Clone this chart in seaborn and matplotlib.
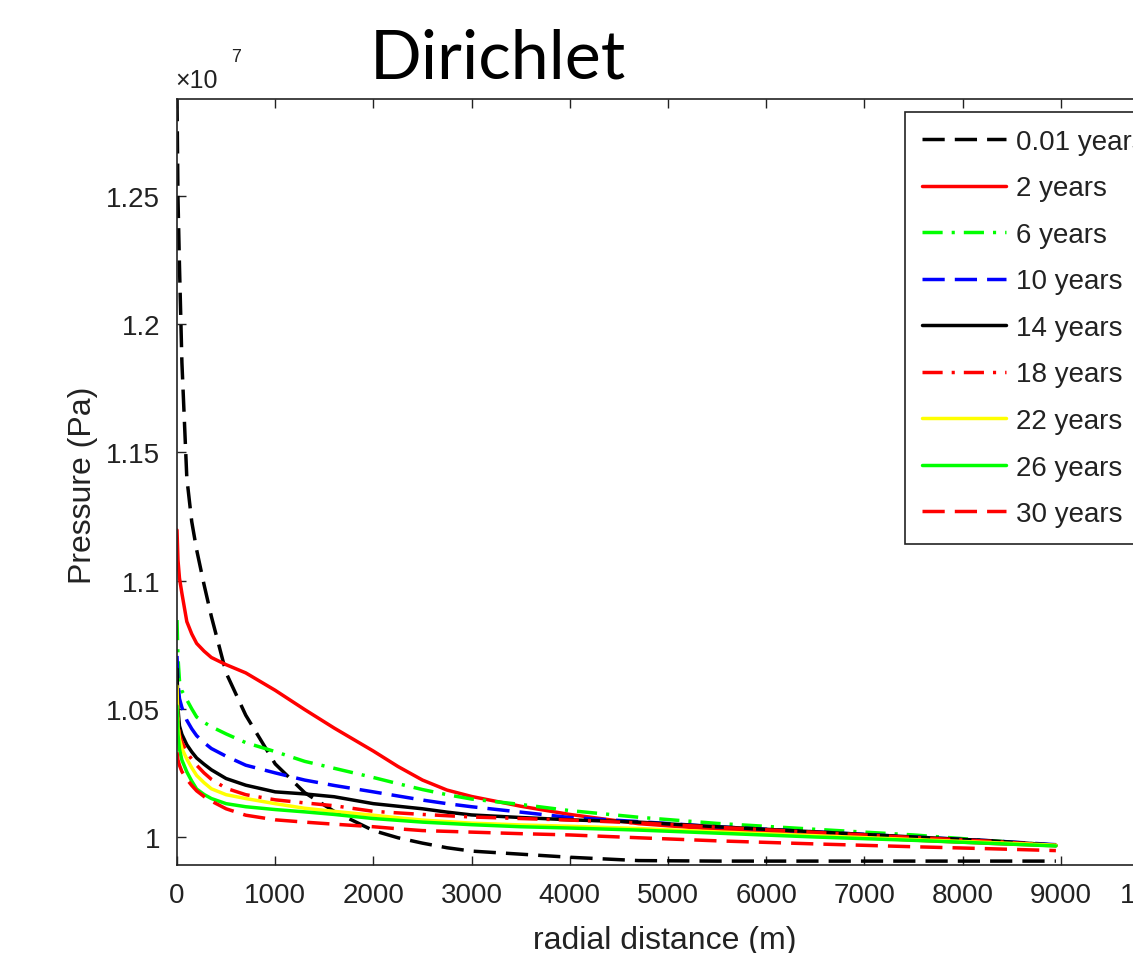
import numpy as np
import pandas as pd
import matplotlib
matplotlib.use("Agg")
import matplotlib.pyplot as plt
import seaborn as sns
from matplotlib.ticker import FixedLocator, FuncFormatter

# ---------------- data (pressure in units of 1e7 Pa) ----------------
radial_distance = [0, 10, 25, 50, 100, 150, 200, 275, 350, 500, 700, 1000, 1300, 1600,
                   2000, 2250, 2500, 2750, 3000, 3500, 4000, 4700, 5500, 6500, 7500, 8300, 8950]

p_001y = [1.2878, 1.2490, 1.2230, 1.1850, 1.1400, 1.1230, 1.1120, 1.0985, 1.0860, 1.0640,
          1.0475, 1.0285, 1.0173, 1.0100, 1.0025, 0.9997, 0.9976, 0.9958, 0.9945, 0.9933,
          0.9921, 0.9908, 0.9906, 0.9906, 0.9906, 0.9906, 0.9906]
p_2y = [1.1197, 1.1080, 1.1010, 1.0950, 1.0840, 1.0792, 1.0755, 1.0725, 1.0700, 1.0672,
        1.0640, 1.0572, 1.0497, 1.0425, 1.0335, 1.0275, 1.0222, 1.0183, 1.0158, 1.0120,
        1.0088, 1.0052, 1.0030, 1.0008, 0.9988, 0.9975, 0.9966]
p_6y = [1.0846, 1.0700, 1.0610, 1.0570, 1.0535, 1.0500, 1.0468, 1.0447, 1.0430, 1.0402,
        1.0368, 1.0333, 1.0295, 1.0268, 1.0232, 1.0208, 1.0185, 1.0165, 1.0148, 1.0127,
        1.0103, 1.0077, 1.0053, 1.0030, 1.0008, 0.9985, 0.9968]
p_10y = [1.0706, 1.0600, 1.0540, 1.0505, 1.0455, 1.0422, 1.0395, 1.0368, 1.0345, 1.0315,
         1.0280, 1.0250, 1.0222, 1.0201, 1.0176, 1.0160, 1.0144, 1.0130, 1.0118, 1.0097,
         1.0076, 1.0060, 1.0040, 1.0020, 1.0000, 0.9985, 0.9970]
p_14y = [1.0655, 1.0500, 1.0433, 1.0400, 1.0360, 1.0332, 1.0308, 1.0284, 1.0262, 1.0228,
         1.0202, 1.0176, 1.0168, 1.0157, 1.0130, 1.0120, 1.0110, 1.0097, 1.0086, 1.0076,
         1.0067, 1.0058, 1.0040, 1.0020, 1.0000, 0.9985, 0.9968]
p_18y = [1.0580, 1.0450, 1.0400, 1.0370, 1.0330, 1.0303, 1.0280, 1.0250, 1.0225, 1.0190,
         1.0165, 1.0145, 1.0133, 1.0122, 1.0100, 1.0094, 1.0088, 1.0083, 1.0078, 1.0072,
         1.0066, 1.0055, 1.0038, 1.0018, 0.9998, 0.9983, 0.9967]
p_22y = [1.0589, 1.0430, 1.0382, 1.0345, 1.0304, 1.0270, 1.0240, 1.0212, 1.0188, 1.0165,
         1.0150, 1.0130, 1.0112, 1.0100, 1.0085, 1.0075, 1.0066, 1.0060, 1.0054, 1.0047,
         1.0042, 1.0033, 1.0020, 1.0005, 0.9990, 0.9978, 0.9968]
p_26y = [1.0511, 1.0400, 1.0343, 1.0300, 1.0254, 1.0218, 1.0187, 1.0166, 1.0150, 1.0130,
         1.0118, 1.0107, 1.0098, 1.0088, 1.0072, 1.0065, 1.0058, 1.0053, 1.0048, 1.0040,
         1.0035, 1.0027, 1.0015, 1.0000, 0.9987, 0.9975, 0.9965]
p_30y = [1.0330, 1.0300, 1.0280, 1.0255, 1.0225, 1.0201, 1.0180, 1.0158, 1.0140, 1.0110,
         1.0085, 1.0067, 1.0058, 1.0050, 1.0040, 1.0032, 1.0025, 1.0022, 1.0019, 1.0013,
         1.0008, 0.9997, 0.9985, 0.9973, 0.9962, 0.9954, 0.9947]

series_labels = ["0.01 years", "2 years", "6 years", "10 years", "14 years",
                 "18 years", "22 years", "26 years", "30 years"]
series_values = [p_001y, p_2y, p_6y, p_10y, p_14y, p_18y, p_22y, p_26y, p_30y]

x_ticks = [0, 1000, 2000, 3000, 4000, 5000, 6000, 7000, 8000, 9000, 10000]
y_ticks = [1.0, 1.05, 1.1, 1.15, 1.2, 1.25]

# ---------------- styles ----------------
LW = 2.5
DASH = (0, (6.4, 2.9))
DASHDOT = (0, (5.8, 2.6, 0.9, 2.6))
series_colors = ["#000000", "#FF0000", "#00FF00", "#0000FF", "#000000",
                 "#FF0000", "#FFFF00", "#00FF00", "#FF0000"]
series_styles = [DASH, "-", DASHDOT, DASH, "-", DASHDOT, "-", "-", DASH]

sns.set_style("ticks")
plt.rcParams["font.family"] = ["Liberation Sans", "DejaVu Sans"]
plt.rcParams["xtick.direction"] = "in"
plt.rcParams["ytick.direction"] = "in"

fig = plt.figure(figsize=(11.33, 9.54), dpi=100)
W, H = 1133.0, 954.0
ax_left, ax_right, ax_top, ax_bottom = 177, 1159, 100, 866
ax = fig.add_axes([ax_left / W, 1 - ax_bottom / H,
                   (ax_right - ax_left) / W, (ax_bottom - ax_top) / H])

for lab, vals, col, ls in zip(series_labels, series_values, series_colors, series_styles):
    df = pd.DataFrame({"radial distance (m)": radial_distance, "Pressure (Pa)": vals})
    sns.lineplot(data=df, x="radial distance (m)", y="Pressure (Pa)", ax=ax,
                 color=col, linestyle=ls, linewidth=LW, label=lab, sort=False,
                 estimator=None)

ax.set_xlim(0, 10000)
ax.set_ylim(0.98908, 1.2878)
ax.xaxis.set_major_locator(FixedLocator(x_ticks))
ax.yaxis.set_major_locator(FixedLocator(y_ticks))
ax.xaxis.set_major_formatter(FuncFormatter(lambda v, p: "%d" % v))
ax.yaxis.set_major_formatter(FuncFormatter(lambda v, p: "%g" % round(v, 4)))

for s in ax.spines.values():
    s.set_visible(True)
    s.set_color("#222222")
    s.set_linewidth(1.2)
ax.tick_params(axis="both", which="major", direction="in", length=6.5, width=1.0,
               color="#222222", labelsize=20, labelcolor="#222222",
               top=True, right=True)
ax.tick_params(axis="x", pad=12)
ax.tick_params(axis="y", pad=12)

ax.set_xlabel("radial distance (m)", fontsize=23, color="#222222", va="center")
ax.set_ylabel("Pressure (Pa)", fontsize=23, color="#222222", va="center")
ax.xaxis.set_label_coords((665 - ax_left) / (ax_right - ax_left), -(941 - ax_bottom) / (ax_bottom - ax_top))
ax.yaxis.set_label_coords(-(177 - 83) / (ax_right - ax_left), (ax_bottom - 485) / (ax_bottom - ax_top))

# exponent label (x 10^7)
fig.text(175 / W, 1 - 88 / H, "\u00d710", fontsize=18, color="#222222",
         ha="left", va="baseline")
fig.text(231 / W, 1 - 62 / H, "7", fontsize=13, color="#222222",
         ha="left", va="baseline")

# title
fig.text(498 / W, 1 - 79 / H, "Dirichlet", fontsize=49, family=["Lato", "DejaVu Sans"],
         ha="center", va="baseline", color="black")
# cut-off panel label at very top
fig.text(780 / W, 1 + 1 / H, "(a)", fontsize=20, ha="center", va="bottom", color="#222222")

leg = ax.legend(loc="upper left", bbox_to_anchor=(905 / W, 1 - 113 / H),
                bbox_transform=fig.transFigure, borderaxespad=0,
                fontsize=20, handlelength=3.05, handletextpad=0.33,
                labelspacing=0.74, borderpad=0.6, fancybox=False, framealpha=1,
                edgecolor="#222222")
leg.get_frame().set_linewidth(1.2)
for t in leg.get_texts():
    t.set_color("#222222")

fig.savefig("out.png", dpi=100)
